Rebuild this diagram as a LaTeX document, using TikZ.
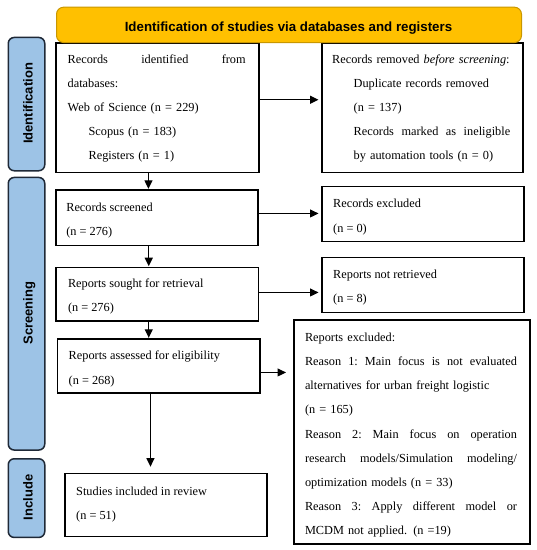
\documentclass[tikz,border=0pt]{standalone}
\usepackage{fontspec}
\setmainfont{Liberation Serif}
\newfontfamily\hdfont{Liberation Sans}
\usetikzlibrary{arrows.meta}
\setlength{\parindent}{0pt}
\definecolor{hdrfill}{HTML}{FFC000}
\definecolor{hdrline}{HTML}{C99700}
\definecolor{sidefill}{HTML}{9DC3E6}
\definecolor{sideline}{HTML}{1F2937}
\newcommand{\firststrut}{\rule{0pt}{10pt}}
\newcommand{\jline}[1]{\leavevmode\hbox to\hsize{#1}}
\begin{document}
\begin{tikzpicture}[x=1pt,y=-1pt,
  box/.style={draw, line width=1.5pt, anchor=north west, inner sep=0pt},
  txt/.style={anchor=north west, inner sep=0pt, align=left, font=\fontsize{12.3pt}{24pt}\selectfont},
  hdr/.style={draw=hdrline, fill=hdrfill, line width=1pt, rounded corners=7pt, anchor=north west, inner sep=0pt},
  side/.style={draw=sideline, fill=sidefill, line width=1.5pt, rounded corners=6pt, anchor=north west, inner sep=0pt, minimum width=36.5pt},
  sidetxt/.style={rotate=90, anchor=base, inner sep=0pt, font=\hdfont\bfseries\fontsize{13pt}{15pt}\selectfont},
  arr/.style={-{Triangle[length=8.5pt,width=8pt]}, line width=1.1pt}
]
\useasboundingbox (0,0) rectangle (537,550);

% side labels
\node[side, minimum height=133.3pt] (s1) at (7.5,36.7) {};
\node[side, minimum height=272.6pt] (s2) at (7.5,176.7) {};
\node[side, minimum height=78.7pt] (s3) at (7.5,458) {};
\node[sidetxt] (s1t) at (32.5,103.4) {Identification};
\node[sidetxt] (s2t) at (32.5,313) {Screening};
\node[sidetxt] (s3t) at (32.5,497.4) {Include};

% boxes
\node[box, minimum width=203pt, minimum height=129.5pt] (b1) at (55,42) {};
\node[box, minimum width=201pt, minimum height=129.5pt] (b2) at (321,42) {};
\node[box, minimum width=202pt, minimum height=55.2pt] (b3) at (55,189.3) {};
\node[box, minimum width=202pt, minimum height=55pt] (b4) at (321,185.7) {};
\node[box, minimum width=202.5pt, minimum height=53.3pt] (b5) at (55,266.7) {};
\node[box, minimum width=202pt, minimum height=55pt] (b6) at (321,256.7) {};
\node[box, minimum width=202.5pt, minimum height=54pt] (b7) at (56.5,338.3) {};
\node[box, minimum width=236pt, minimum height=224pt] (b8) at (293,319) {};
\node[box, minimum width=201.6pt, minimum height=62.8pt] (b9) at (64.4,472.7) {};

% header
\node[hdr, minimum width=465pt, minimum height=35.3pt] (h) at (56,6.7) {};
\node[anchor=base, inner sep=0pt, font=\hdfont\bfseries\fontsize{13.3pt}{15pt}\selectfont] (ht) at (288.5,31.5) {Identification of studies via databases and registers};

% texts
\node[txt, text width=178pt] (t1) at (67.5,53.4) {\jline{\firststrut Records\hfill identified\hfill from}\\ databases:\\ Web of Science (n = 229)\\ \hspace*{20.9pt}Scopus (n = 183)\\ \hspace*{20.9pt}Registers (n = 1)};
\node[txt, text width=178pt] (t2) at (332,53.4) {\firststrut\mbox{Records removed \textit{before screening}:}\\ \hspace*{21.5pt}Duplicate records removed\\ \hspace*{21.5pt}(n = 137)\\ \jline{\hspace*{21.5pt}Records\hfill marked\hfill as\hfill ineligible}\\ \hspace*{21.5pt}by automation tools (n = 0)};
\node[txt, font=\fontsize{12.3pt}{24.4pt}\selectfont] (t3) at (66.1,201) {\firststrut Records screened\\ (n = 276)};
\node[txt, font=\fontsize{12.3pt}{25pt}\selectfont] (t4) at (333,197.7) {\firststrut Records excluded\\ (n = 0)};
\node[txt, font=\fontsize{12.3pt}{23.5pt}\selectfont] (t5) at (67.8,277.7) {\firststrut Reports sought for retrieval\\ (n = 276)};
\node[txt] (t6) at (333,268.7) {\firststrut Reports not retrieved\\ (n = 8)};
\node[txt, font=\fontsize{12.3pt}{25pt}\selectfont] (t7) at (68.5,349.4) {\firststrut Reports assessed for eligibility\\ (n = 268)};
\node[txt, text width=212pt, font=\fontsize{12.3pt}{24.2pt}\selectfont] (t8) at (304.8,331) {\firststrut Reports excluded:\\
\jline{Reason\hfill 1:\hfill Main\hfill focus\hfill is\hfill not\hfill evaluated}\\
\mbox{alternatives for urban freight logistic}\\
(n = 165)\\
\jline{Reason\hfill 2:\hfill Main\hfill focus\hfill on\hfill operation}\\
\jline{research\hfill models/Simulation\hfill modeling/}\\
optimization models (n = 33)\\
\jline{Reason\hfill 3:\hfill Apply\hfill different\hfill model\hfill or}\\
MCDM not applied. (n =19)};
\node[txt] (t9) at (76,485.4) {\firststrut Studies included in review\\ (n = 51)};

% connectors
\coordinate (a1) at ([yshift=7.75pt]b1.east);
\draw[arr, shorten >=2.5pt] (a1) -- (a1 -| b2.west);
\coordinate (a2) at ([yshift=4.2pt]b3.east);
\draw[arr, shorten >=2.5pt] (a2) -- (a2 -| b4.west);
\coordinate (a3) at ([yshift=1.65pt]b5.east);
\draw[arr, shorten >=2.5pt] (a3) -- (a3 -| b6.west);
\coordinate (a4) at ([yshift=-6.4pt]b7.east);
\draw[arr, shorten >=7pt] (a4) -- (a4 -| b8.west);
\coordinate (v1) at ([xshift=-8.8pt]b1.south);
\draw[arr, shorten >=0.5pt] (v1) -- (v1 |- b3.north);
\coordinate (v2) at ([xshift=-8pt]b3.south);
\draw[arr, shorten >=0.5pt] (v2) -- (v2 |- b5.north);
\coordinate (v3) at ([xshift=-8.25pt]b5.south);
\draw[arr, shorten >=0.5pt] (v3) -- (v3 |- b7.north);
\coordinate (v4) at ([xshift=-8.05pt]b7.south);
\draw[arr, shorten >=6pt] (v4) -- (v4 |- b9.north);
\end{tikzpicture}
\end{document}
